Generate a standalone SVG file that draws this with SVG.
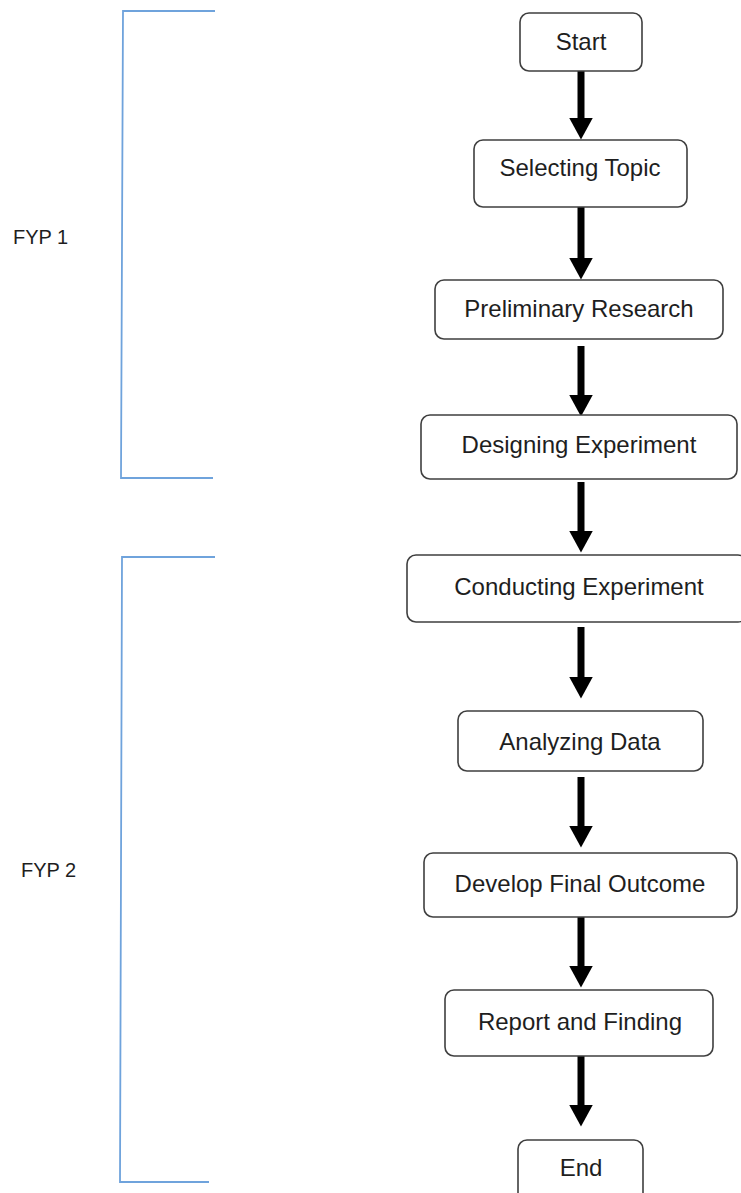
<svg xmlns="http://www.w3.org/2000/svg" width="741" height="1193" viewBox="0 0 741 1193">
<style>
.box{fill:#ffffff;stroke:#3f3f3f;stroke-width:1.6}
.lbl{font-family:"Liberation Sans",Arial,sans-serif;font-size:24px;fill:#1e1e1e;text-anchor:middle}
.side{font-family:"Liberation Sans",Arial,sans-serif;font-size:20px;fill:#1e1e1e}
.br{fill:none;stroke:#6fa3dc;stroke-width:1.8}
.arr{stroke:#000;stroke-width:7;fill:none}
</style>
<defs>
<marker id="ah" markerUnits="userSpaceOnUse" markerWidth="22" markerHeight="24" refX="0.5" refY="12" orient="auto" viewBox="0 0 22 24">
<path d="M0,0 L22,12 L0,24 Z" fill="#000"/>
</marker>
</defs>
<rect width="741" height="1193" fill="#ffffff"/>
<g id="brackets">
<path class="br" d="M215,11 L123,11 L121,478 L213,478"/>
<path class="br" d="M215,557 L122,557 L120,1182 L209,1182"/>
</g>
<g id="fyp1"><text class="side" x="13" y="244">FYP 1</text></g>
<g id="fyp2"><text class="side" x="21" y="877">FYP 2</text></g>
<g id="connectors">
<line class="arr" x1="581" y1="71" x2="581" y2="118" marker-end="url(#ah)"/>
<line class="arr" x1="581" y1="207" x2="581" y2="258" marker-end="url(#ah)"/>
<line class="arr" x1="581" y1="346" x2="581" y2="395" marker-end="url(#ah)"/>
<line class="arr" x1="581" y1="482" x2="581" y2="531" marker-end="url(#ah)"/>
<line class="arr" x1="581" y1="627" x2="581" y2="677" marker-end="url(#ah)"/>
<line class="arr" x1="581" y1="777" x2="581" y2="826" marker-end="url(#ah)"/>
<line class="arr" x1="581" y1="917" x2="581" y2="966" marker-end="url(#ah)"/>
<line class="arr" x1="581" y1="1056" x2="581" y2="1105" marker-end="url(#ah)"/>
</g>
<g id="start"><rect class="box" x="520" y="13" width="122" height="58" rx="9"/><text class="lbl" x="581" y="50">Start</text></g>
<g id="selecting"><rect class="box" x="474" y="140" width="213" height="67" rx="9"/><text class="lbl" x="580" y="176">Selecting Topic</text></g>
<g id="preliminary"><rect class="box" x="435" y="280" width="288" height="59" rx="9"/><text class="lbl" x="579" y="317">Preliminary Research</text></g>
<g id="designing"><rect class="box" x="421" y="415" width="316" height="64" rx="9"/><text class="lbl" x="579" y="453">Designing Experiment</text></g>
<g id="conducting"><rect class="box" x="407" y="555" width="340" height="67" rx="9"/><text class="lbl" x="579" y="595">Conducting Experiment</text></g>
<g id="analyzing"><rect class="box" x="458" y="711" width="245" height="60" rx="9"/><text class="lbl" x="580" y="750">Analyzing Data</text></g>
<g id="develop"><rect class="box" x="424" y="853" width="313" height="64" rx="9"/><text class="lbl" x="580" y="892">Develop Final Outcome</text></g>
<g id="report"><rect class="box" x="445" y="990" width="268" height="66" rx="9"/><text class="lbl" x="580" y="1030">Report and Finding</text></g>
<g id="end"><rect class="box" x="518" y="1140" width="125" height="70" rx="9"/><text class="lbl" x="581" y="1176">End</text></g>
</svg>
